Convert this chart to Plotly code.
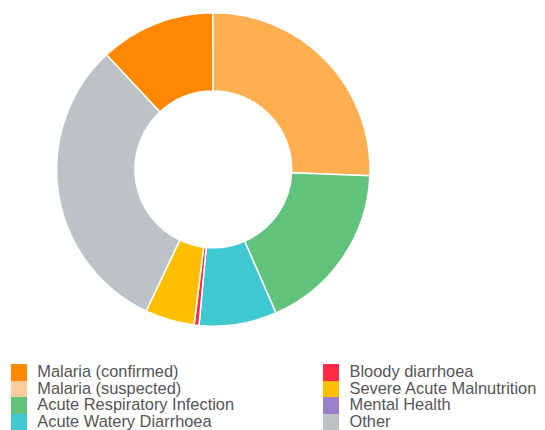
import plotly.graph_objects as go

# ---- data ----
labels = ["Malaria (confirmed)", "Malaria (suspected)", "Acute Respiratory Infection",
          "Acute Watery Diarrhoea", "Bloody diarrhoea", "Severe Acute Malnutrition",
          "Mental Health", "Other"]
values = [11.9, 25.7, 17.8, 8.0, 0.5, 5.1, 0.0, 31.0]
slice_colors = ["#FF8800", "#FFAF50", "#61C27B", "#40C8D1", "#FF2A45", "#FFBF00",
                "#9B7FCC", "#BCC2C5"]
legend_colors = ["#FF8800", "#FFCC99", "#61C27B", "#40C8D1", "#FF2A45", "#FFBF00",
                 "#9B7FCC", "#BCC2C5"]

# the page body has an 8px margin, so the figure is drawn at (8, 8)
PAGE_OFF = 8
W, H = 545 - PAGE_OFF, 430 - PAGE_OFF
FONT = "Liberation Sans, Arial, sans-serif"

fig = go.Figure()

# donut (positions in window pixels, converted to figure pixels)
cx, cy, r = 213.3 - PAGE_OFF, 169.4 - PAGE_OFF, 156.7
fig.add_trace(go.Pie(
    labels=labels, values=values,
    marker=dict(colors=slice_colors, line=dict(color="white", width=1.5)),
    hole=0.5, sort=False, direction="clockwise", rotation=-43,
    textinfo="none", hoverinfo="label+value", showlegend=False,
    domain=dict(x=[(cx - r) / W, (cx + r) / W], y=[1 - (cy + r) / H, 1 - (cy - r) / H]),
))

# legend (two columns, four rows each)
n_rows = 4
rows = [i % n_rows for i in range(len(labels))]
cols = [i // n_rows for i in range(len(labels))]
sw_x = [11.0 - PAGE_OFF, 322.7 - PAGE_OFF]
txt_x = [37.3 - PAGE_OFF, 349.5 - PAGE_OFF]
sw_w = 15.8
txt_dy = 0.06  # small downward nudge of label text within its row
row_h = 16.67
legend_top = 364.0 - PAGE_OFF

fig.add_trace(go.Bar(
    orientation="h", y=rows, x=[sw_w] * len(labels), base=[sw_x[c] for c in cols],
    width=1.0, marker=dict(color=legend_colors, line=dict(width=0)),
    showlegend=False, hoverinfo="skip", xaxis="x", yaxis="y",
))
fig.add_trace(go.Scatter(
    mode="text", x=[txt_x[c] for c in cols], y=[rw + txt_dy for rw in rows], text=labels,
    textposition="middle right",
    textfont=dict(family=FONT, size=16.4, color="#555555"),
    showlegend=False, hoverinfo="skip", cliponaxis=False, xaxis="x", yaxis="y",
))

leg_top_frac = 1 - legend_top / H
leg_bot_frac = 1 - (legend_top + n_rows * row_h) / H
fig.update_layout(
    width=W, height=H,
    margin=dict(l=0, r=0, t=0, b=0),
    paper_bgcolor="white", plot_bgcolor="rgba(0,0,0,0)",
    font=dict(family=FONT),
    showlegend=False,
    xaxis=dict(domain=[0, 1], range=[0, W], visible=False, fixedrange=True),
    yaxis=dict(domain=[max(leg_bot_frac, 0), leg_top_frac],
               range=[n_rows - 0.5, -0.5], visible=False, fixedrange=True),
    bargap=0,
)

fig.write_html("out.html")
